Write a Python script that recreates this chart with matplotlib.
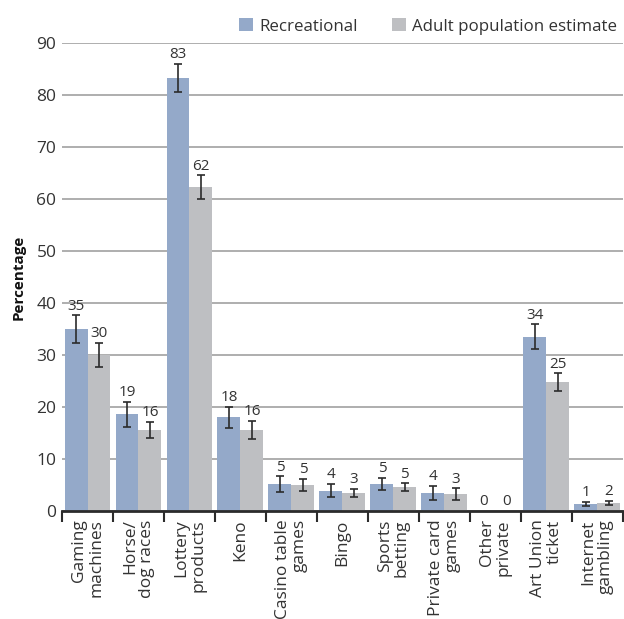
import numpy as np
import matplotlib
matplotlib.use("Agg")
import matplotlib.pyplot as plt

categories = ["Gaming\nmachines", "Horse/\ndog races", "Lottery\nproducts", "Keno",
              "Casino table\ngames", "Bingo", "Sports\nbetting", "Private card\ngames",
              "Other\nprivate", "Art Union\nticket", "Internet\ngambling"]
recreational = [35.0, 18.6, 83.3, 18.0, 5.2, 3.9, 5.2, 3.5, 0.0, 33.5, 1.35]
rec_err = [2.6, 2.4, 2.7, 2.0, 1.5, 1.3, 1.2, 1.3, 0.0, 2.4, 0.4]
adult = [30.0, 15.6, 62.3, 15.6, 5.0, 3.5, 4.6, 3.3, 0.0, 24.8, 1.6]
adult_err = [2.3, 1.6, 2.3, 1.8, 1.2, 0.8, 0.75, 1.1, 0.0, 1.7, 0.4]
rec_labels = ["35", "19", "83", "18", "5", "4", "5", "4", "0", "34", "1"]
adult_labels = ["30", "16", "62", "16", "5", "3", "5", "3", "0", "25", "2"]

plt.rcParams['font.family'] = ['Open Sans', 'DejaVu Sans']
text_col = '#333333'

fig = plt.figure(figsize=(6.24, 6.19), dpi=100)
ax = fig.add_axes([0.0994, 0.1745, 0.8986, 0.756])

x = np.arange(len(categories))
w = 0.45
rec_col = '#94a9c9'
adult_col = '#bebfc2'

ax.bar(x - w / 2, recreational, w, color=rec_col, label='Recreational', zorder=2)
ax.bar(x + w / 2, adult, w, color=adult_col, label='Adult population estimate', zorder=2)

for i in range(len(x)):
    if rec_err[i] > 0:
        ax.errorbar(x[i] - w / 2, recreational[i], yerr=rec_err[i], fmt='none',
                    ecolor='#2b2b2b', elinewidth=1.2, capsize=3, capthick=1.2, zorder=3)
    if adult_err[i] > 0:
        ax.errorbar(x[i] + w / 2, adult[i], yerr=adult_err[i], fmt='none',
                    ecolor='#2b2b2b', elinewidth=1.2, capsize=3, capthick=1.2, zorder=3)
    ax.text(x[i] - w / 2, recreational[i] + rec_err[i] + 0.3, rec_labels[i],
            ha='center', va='bottom', fontsize=11, color=text_col)
    ax.text(x[i] + w / 2, adult[i] + adult_err[i] + 0.3, adult_labels[i],
            ha='center', va='bottom', fontsize=11, color=text_col)

ax.set_xlim(-0.5, len(categories) - 0.5)
ax.set_ylim(0, 90)
ax.set_yticks(np.arange(0, 91, 10))
ax.yaxis.grid(True, color='#a8a8a8', linewidth=1.3, zorder=0)
ax.set_axisbelow(True)

ax.set_xticks(x)
ax.set_xticklabels(categories, rotation=90, multialignment='right', fontsize=12.5,
                   color=text_col, linespacing=1.1)
ax.set_xticks(np.arange(-0.5, len(categories), 1), minor=True)
ax.tick_params(axis='x', which='major', length=0, pad=6)
ax.tick_params(axis='x', which='minor', length=8, width=1.5, color='#2b2b2b')
ax.tick_params(axis='y', length=0, pad=4, labelsize=12.5, labelcolor=text_col)

for s in ['top', 'right', 'left']:
    ax.spines[s].set_visible(False)
ax.spines['bottom'].set_color('#2b2b2b')
ax.spines['bottom'].set_linewidth(2)

ax.set_ylabel('Percentage', fontsize=11, fontweight='bold', color='#111111', labelpad=8)

ax.legend(loc='lower right', bbox_to_anchor=(1.005, 1.0), ncol=2, frameon=False,
          fontsize=12.2, handlelength=0.85, handleheight=0.85, handletextpad=0.35,
          columnspacing=2.0, borderaxespad=0.1, labelcolor=text_col)

fig.savefig('out.png', dpi=100)
